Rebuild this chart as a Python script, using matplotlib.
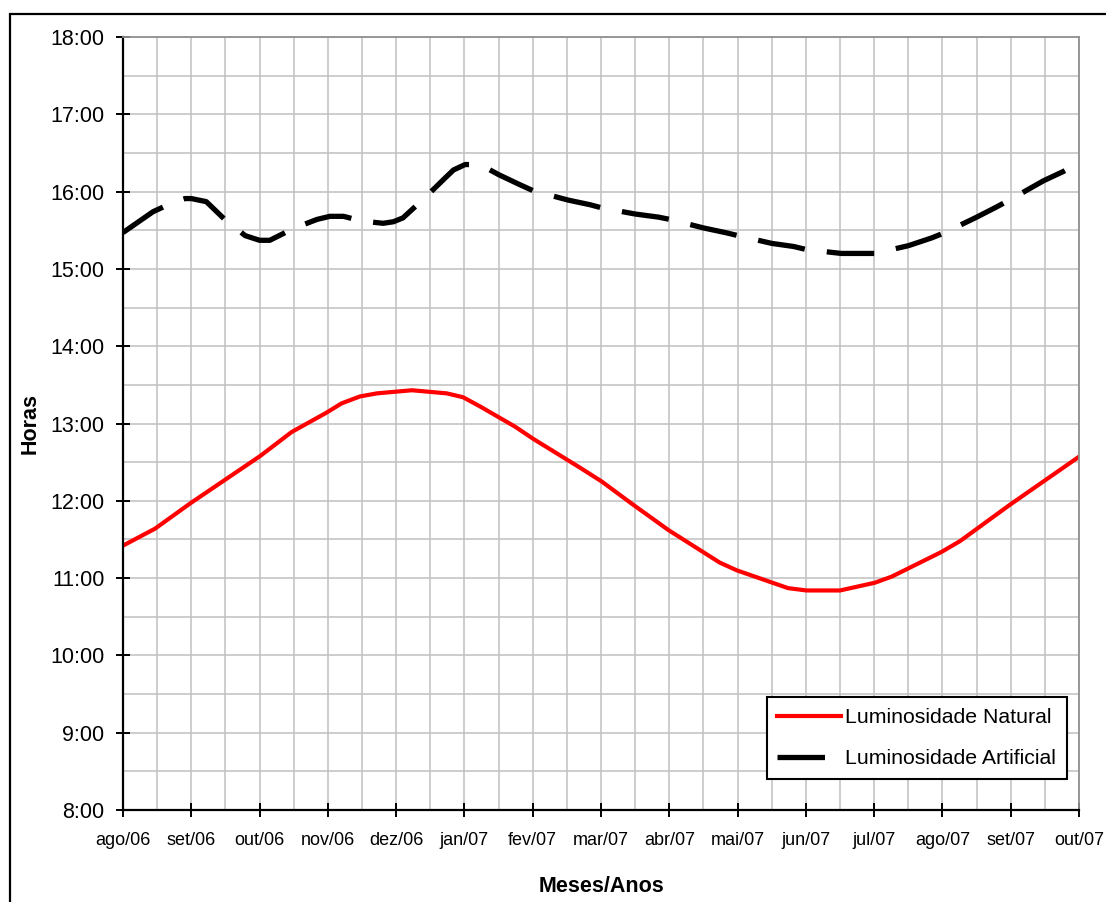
import matplotlib
matplotlib.use("Agg")
import matplotlib.pyplot as plt
from matplotlib.patches import Rectangle
from matplotlib.ticker import FixedLocator, MultipleLocator

plt.rcParams['font.family'] = ['Liberation Sans', 'DejaVu Sans']

# -- dados --
meses = ['ago/06', 'set/06', 'out/06', 'nov/06', 'dez/06', 'jan/07', 'fev/07',
         'mar/07', 'abr/07', 'mai/07', 'jun/07', 'jul/07', 'ago/07', 'set/07', 'out/07']
horas_rotulos = ['8:00', '9:00', '10:00', '11:00', '12:00', '13:00', '14:00',
                 '15:00', '16:00', '17:00', '18:00']

# posicao em meses desde ago/06, valor em horas
nat_mes = [0.0, 0.47, 0.99, 2.01, 2.47, 2.98, 3.20, 3.47, 3.72, 4.23, 4.74, 4.98,
           5.23, 5.74, 6.01, 6.69, 7.01, 7.47, 7.99, 8.74, 8.99, 9.74, 10.01,
           10.50, 11.01, 11.26, 11.99, 12.26, 12.99, 14.0]
nat_horas = [11.42, 11.64, 11.97, 12.58, 12.89, 13.14, 13.26, 13.35, 13.39, 13.43,
             13.39, 13.34, 13.22, 12.96, 12.80, 12.43, 12.25, 11.95, 11.62, 11.20,
             11.10, 10.87, 10.84, 10.84, 10.94, 11.02, 11.34, 11.48, 11.95, 12.57]

art_mes = [0.0, 0.44, 0.76, 0.91, 1.0, 1.22, 1.49, 1.79, 2.0, 2.15, 2.49, 2.84,
           3.03, 3.23, 3.49, 3.81, 3.96, 4.10, 4.42, 4.71, 4.84, 5.01, 5.23, 5.50,
           5.81, 6.01, 6.52, 6.84, 7.01, 7.50, 7.84, 8.01, 8.50, 8.82, 9.01, 9.50,
           9.82, 10.01, 10.52, 10.84, 11.01, 11.50, 11.84, 12.01, 12.48, 12.79,
           13.0, 13.48, 13.77, 14.0]
art_horas = [15.47, 15.74, 15.87, 15.91, 15.91, 15.87, 15.64, 15.43, 15.37, 15.37,
             15.52, 15.64, 15.68, 15.68, 15.62, 15.59, 15.61, 15.66, 15.92, 16.17,
             16.28, 16.35, 16.35, 16.22, 16.09, 16.01, 15.89, 15.83, 15.79, 15.71,
             15.67, 15.64, 15.53, 15.47, 15.43, 15.33, 15.29, 15.25, 15.20, 15.20,
             15.20, 15.30, 15.40, 15.46, 15.66, 15.80, 15.90, 16.14, 16.26, 16.37]

# -- figura --
fig = plt.figure(figsize=(11.06, 9.02), dpi=100)
fig.patches.append(Rectangle((10 / 1106, -0.1), 1.2, 1 - 14 / 902 + 0.1,
                             transform=fig.transFigure, fill=False,
                             edgecolor='black', linewidth=1.6))
ax = fig.add_axes([123 / 1106, 92 / 902, 956 / 1106, 773 / 902])

ax.plot(nat_mes, nat_horas, color='#ff0000', linewidth=3.0,
        label='Luminosidade Natural', solid_joinstyle='round')
ax.plot(art_mes, art_horas, color='black', linewidth=3.8, dashes=(9, 4.2),
        label='Luminosidade Artificial')

ax.set_xlim(0, len(meses) - 1)
ax.set_ylim(8, 18)
ax.xaxis.set_major_locator(FixedLocator(range(len(meses))))
ax.set_xticklabels(meses)
ax.xaxis.set_minor_locator(MultipleLocator(0.5))
ax.yaxis.set_major_locator(FixedLocator(range(8, 19)))
ax.set_yticklabels(horas_rotulos)
ax.yaxis.set_minor_locator(MultipleLocator(0.5))

ax.grid(True, which='both', color='#c0c0c0', linewidth=1.1)
ax.set_axisbelow(True)
ax.tick_params(axis='both', which='minor', length=0)
ax.tick_params(axis='y', which='major', direction='inout', length=9.5, width=1.4,
               labelsize=15.5, pad=8.5)
ax.tick_params(axis='x', which='major', direction='inout', length=9.5, width=1.4,
               labelsize=13, pad=11)

for lado in ['left', 'bottom']:
    ax.spines[lado].set_color('black')
    ax.spines[lado].set_linewidth(1.6)
for lado in ['top', 'right']:
    ax.spines[lado].set_color('#909090')
    ax.spines[lado].set_linewidth(1.3)

ax.set_xlabel('Meses/Anos', fontsize=15.5, fontweight='bold')
ax.set_ylabel('Horas', fontsize=15.5, fontweight='bold')
ax.xaxis.set_label_coords(0.5, -0.086)
ax.yaxis.set_label_coords(-0.086, 0.5)

leg = ax.legend(loc='lower right', bbox_to_anchor=(0.9874, 0.0401),
                borderaxespad=0, fancybox=False, edgecolor='black',
                framealpha=1, fontsize=15.3, handlelength=3.0,
                handletextpad=0.2, labelspacing=1.05, borderpad=0.5)
leg.get_frame().set_linewidth(1.5)

fig.savefig('out.png', dpi=100)
